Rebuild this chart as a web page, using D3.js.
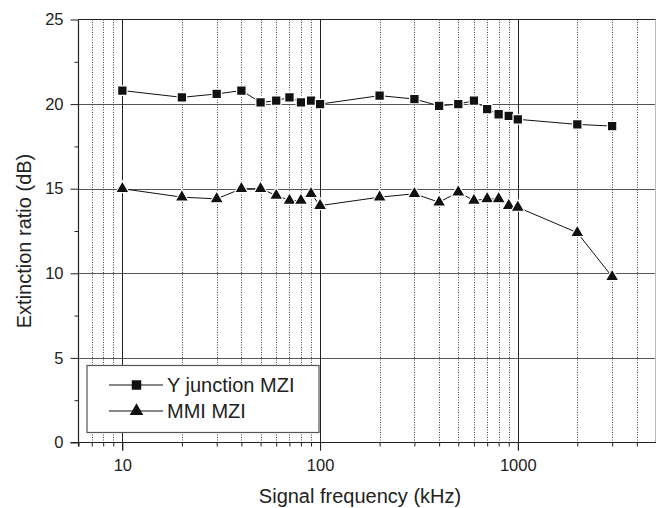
<!DOCTYPE html>
<html>
<head>
<meta charset="utf-8">
<script src="https://cdn.jsdelivr.net/npm/d3@7/dist/d3.min.js"></script>
<style>
  body { margin: 0; background: #fff; }
  svg { display: block; font-family: "Liberation Sans", Arial, sans-serif; }
</style>
</head>
<body>
<svg id="chart" width="656" height="508"></svg>
<script>
// signal frequency (kHz)
const freqs = [10, 20, 30, 40, 50, 60, 70, 80, 90, 100, 200, 300, 400, 500, 600, 700, 800, 900, 1000, 2000, 3000];
// extinction ratio (dB)
const yJunction = [20.8, 20.4, 20.6, 20.8, 20.1, 20.2, 20.4, 20.1, 20.2, 20.0, 20.5, 20.3, 19.9, 20.0, 20.2, 19.7, 19.4, 19.3, 19.1, 18.8, 18.7];
const mmi = [15.0, 14.5, 14.4, 15.0, 15.0, 14.6, 14.3, 14.3, 14.7, 14.0, 14.5, 14.7, 14.2, 14.8, 14.3, 14.4, 14.4, 14.0, 13.9, 12.4, 9.8];

const seriesNames = ['Y junction MZI', 'MMI MZI'];
const xMajor = [10, 100, 1000];
const xMinor = [6, 7, 8, 9, 20, 30, 40, 50, 60, 70, 80, 90, 200, 300, 400, 500, 600, 700, 800, 900, 2000, 3000, 4000];
const yMajor = [0, 5, 10, 15, 20, 25];
const yMinor = [2.5, 7.5, 12.5, 17.5, 22.5];

const svg = d3.select('#chart');
const L = 78.5, R = 655.5, T = 19.5, B = 442.5;

const x = d3.scaleLog().domain([6, 5000]).range([L, 656]);
const y = d3.scaleLinear().domain([0, 25]).range([B, T]);

// 그리드
const grid = svg.append('g');
grid.selectAll('line.minor').data(xMinor.filter(d => d > 6)).join('line')
  .attr('class', 'minor')
  .attr('x1', d => Math.round(x(d)) + 0.5).attr('x2', d => Math.round(x(d)) + 0.5)
  .attr('y1', T).attr('y2', B)
  .attr('stroke', '#444').attr('stroke-width', 1).attr('stroke-dasharray', '1,1.5');

grid.selectAll('line.hmaj').data(yMajor.filter(d => d > 0 && d < 25)).join('line')
  .attr('class', 'hmaj')
  .attr('x1', L).attr('x2', 656)
  .attr('y1', d => Math.round(y(d)) + 0.5).attr('y2', d => Math.round(y(d)) + 0.5)
  .attr('stroke', '#555').attr('stroke-width', 1);

grid.selectAll('line.vmaj').data(xMajor).join('line')
  .attr('class', 'vmaj')
  .attr('x1', d => Math.round(x(d)) + 0.5).attr('x2', d => Math.round(x(d)) + 0.5)
  .attr('y1', T).attr('y2', B + 8)
  .attr('stroke', '#222').attr('stroke-width', 1);

// 테두리
svg.append('line').attr('x1', L).attr('x2', 656).attr('y1', T).attr('y2', T)
  .attr('stroke', '#222').attr('stroke-width', 1.2);
svg.append('line').attr('x1', R).attr('x2', R).attr('y1', T).attr('y2', B)
  .attr('stroke', '#bbb').attr('stroke-width', 1);

// 축
const yAxis = svg.append('g').attr('transform', `translate(${L},0)`)
  .call(d3.axisLeft(y).tickValues(yMajor).tickSize(8).tickPadding(7).tickFormat(d3.format('d')));
yAxis.select('.domain').attr('stroke', '#222').attr('stroke-width', 1.2).attr('d', `M0,${T}V${B + 4}`);
yAxis.selectAll('.tick line').attr('stroke', '#222');
yAxis.selectAll('text').attr('font-size', 16.5).attr('fill', '#222');
svg.append('g').attr('transform', `translate(${L},0)`)
  .call(d3.axisLeft(y).tickValues(yMinor).tickSize(4).tickFormat(''))
  .call(g => g.select('.domain').remove())
  .selectAll('line').attr('stroke', '#222');

const xAxis = svg.append('g').attr('transform', `translate(0,${B})`)
  .call(d3.axisBottom(x).tickValues(xMajor).tickSize(8).tickPadding(9).tickFormat(d3.format('d')));
xAxis.select('.domain').attr('stroke', '#222').attr('stroke-width', 1.2).attr('d', `M${L - 8},0H656`);
xAxis.selectAll('.tick line').attr('stroke', '#222');
xAxis.selectAll('text').attr('font-size', 16.5).attr('fill', '#222');
svg.append('g').attr('transform', `translate(0,${B})`)
  .call(d3.axisBottom(x).tickValues(xMinor).tickSize(4).tickFormat(''))
  .call(g => g.select('.domain').remove())
  .selectAll('line').attr('stroke', '#222');

// 축 제목
svg.append('text').attr('x', 360).attr('y', 503).attr('text-anchor', 'middle')
  .attr('font-size', 20).attr('fill', '#222').text('Signal frequency (kHz)');
svg.append('text').attr('transform', 'translate(31,241) rotate(-90)').attr('text-anchor', 'middle')
  .attr('font-size', 20).attr('fill', '#222').text('Extinction ratio (dB)');

// 데이터
const line = d3.line().x(d => x(d[0])).y(d => y(d[1]));
const sq = d3.symbol().type(d3.symbolSquare).size(90);
const tri = d3.symbol().type(d3.symbolTriangle).size(80);

[yJunction, mmi].forEach((vals, i) => {
  const pts = freqs.map((f, j) => [f, vals[j]]);
  svg.append('path').attr('d', line(pts)).attr('fill', 'none')
    .attr('stroke', '#111').attr('stroke-width', 1);
  svg.append('g').selectAll('path').data(pts).join('path')
    .attr('transform', d => `translate(${x(d[0])},${y(d[1])})`)
    .attr('d', i === 0 ? sq : tri)
    .attr('fill', '#111').attr('stroke', '#fff').attr('stroke-width', 1.2);
});

// 범례
const lg = svg.append('g');
lg.append('rect').attr('x', 87).attr('y', 365.5).attr('width', 232).attr('height', 67)
  .attr('fill', '#fff').attr('stroke', '#555').attr('stroke-width', 1.2);
seriesNames.forEach((name, i) => {
  const cy = 385 + i * 26;
  lg.append('line').attr('x1', 109).attr('x2', 163).attr('y1', cy).attr('y2', cy)
    .attr('stroke', '#111').attr('stroke-width', 1);
  lg.append('path').attr('transform', `translate(136.5,${cy})`)
    .attr('d', i === 0 ? sq : tri).attr('fill', '#111');
  lg.append('text').attr('x', 167).attr('y', cy + 7).attr('font-size', 20).attr('fill', '#222').text(name);
});
</script>
</body>
</html>
